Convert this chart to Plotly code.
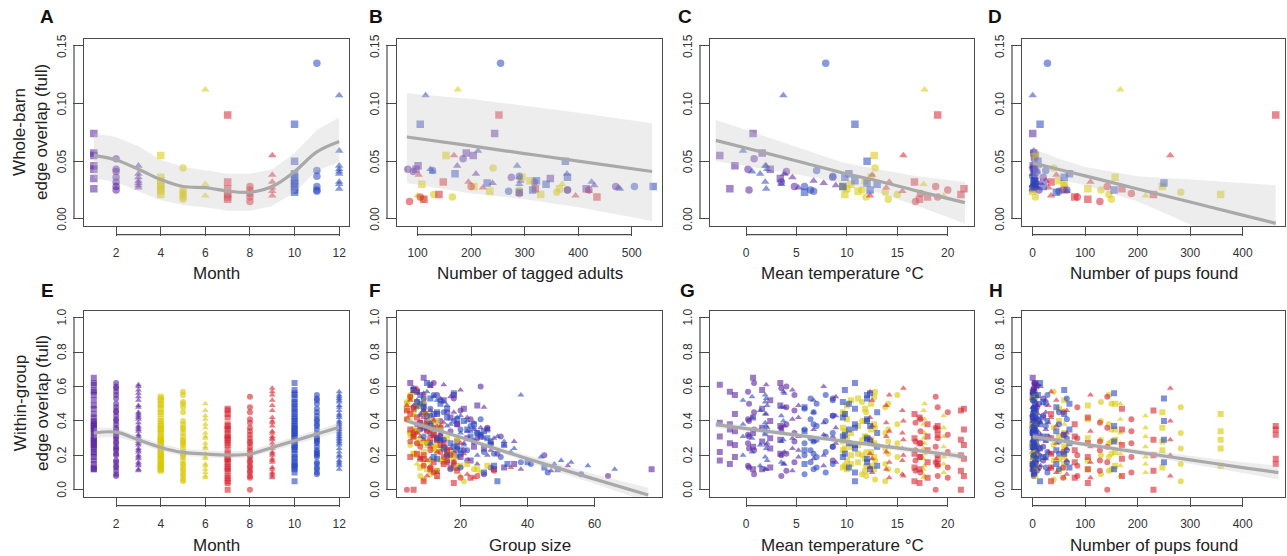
import plotly.graph_objects as go

# ------------------------------------------------------------------ data
# whole-barn observations (one per sampling occasion)
wb_month = [1, 1, 1, 1, 1, 1, 1,
            2, 2, 2, 2, 2, 2, 2,
            3, 3, 3, 3, 3, 3, 3,
            4, 4, 4, 4, 4, 4, 4, 4,
            5, 5, 5, 5, 5, 5,
            6, 6, 6,
            7, 7, 7, 7, 7, 7,
            8, 8, 8, 8, 8,
            9, 9, 9, 9, 9, 9,
            10, 10, 10, 10, 10, 10, 10, 10, 10, 10,
            11, 11, 11, 11, 11, 11,
            12, 12, 12, 12, 12, 12, 12, 12, 12]
wb_overlap = [0.074, 0.057, 0.055, 0.046, 0.043, 0.035, 0.026,
              0.052, 0.043, 0.041, 0.036, 0.032, 0.028, 0.025,
              0.046, 0.039, 0.036, 0.033, 0.031, 0.029, 0.027,
              0.055, 0.036, 0.033, 0.030, 0.028, 0.026, 0.024, 0.021,
              0.044, 0.025, 0.023, 0.021, 0.019, 0.017,
              0.112, 0.030, 0.020,
              0.090, 0.032, 0.026, 0.021, 0.019, 0.017,
              0.028, 0.025, 0.022, 0.019, 0.015,
              0.055, 0.038, 0.032, 0.027, 0.024, 0.020,
              0.082, 0.050, 0.039, 0.036, 0.033, 0.031, 0.030, 0.028, 0.025, 0.023,
              0.135, 0.042, 0.037, 0.028, 0.025, 0.024,
              0.107, 0.059, 0.046, 0.043, 0.041, 0.039, 0.032, 0.030, 0.026]
wb_adults = [244, 191, 204, 101, 97, 348, 415,
             185, 82, 92, 275, 318, 470, 420,
             174, 209, 290, 292, 240, 430, 475,
             153, 295, 310, 108, 205, 365, 235, 330,
             241, 290, 360, 130, 165, 110,
             175, 370, 100,
             252, 148, 320, 140, 435, 112,
             200, 380, 290, 105, 85,
             168, 102, 195, 222, 420, 395,
             105, 376, 170, 380, 322, 230, 340, 540, 315, 290,
             255, 128, 290, 505, 380, 270,
             115, 213, 286, 124, 128, 379, 425, 290, 478]
wb_temp = [0.7, 1.6, -2.6, -1.1, 2.4, 3.4, -1.6,
           0.8, 0.2, 4.0, 8.6, 3.5, 4.8, 0.3,
           2.0, 3.8, 4.6, 6.7, 7.7, 8.9, 5.2,
           12.7, 12.4, 11.8, 10.4, 9.6, 10.0, 11.1, 9.8,
           12.8, 11.5, 13.8, 15.0, 11.9, 14.1,
           17.7, 17.6, 19.6,
           19.0, 16.7, 21.6, 21.3, 18.0, 17.2,
           18.8, 20.0, 17.3, 19.0, 16.8,
           15.6, 12.5, 14.2, 13.9, 15.5, 12.3,
           10.8, 12.0, 10.2, 9.8, 10.8, 12.0, 13.0, 9.6, 12.3, 5.8,
           7.9, 7.0, 8.6, 5.8, 6.4, 6.7,
           3.7, -0.3, 1.9, 2.1, 0.6, 1.4, 1.9, 3.5, 2.0]
wb_pups = [0, 2, 5, 1, 3, 4, 0,
           3, 1, 8, 20, 2, 6, 12,
           10, 0, 4, 25, 15, 0, 8,
           5, 157, 50, 60, 247, 105, 0, 358,
           40, 130, 282, 145, 5, 150,
           167, 60, 215,
           463, 35, 170, 230, 80, 105,
           142, 58, 188, 85, 128,
           262, 45, 110, 30, 65, 35,
           14, 10, 70, 60, 3, 250, 5, 20, 155, 45,
           28, 25, 0, 2, 65, 50,
           0, 2, 0, 4, 8, 3, 6, 1, 0]

# within-group overlap per occasion (lists follow occasion order of each month)
wg_m1 = [[0.65, 0.42, 0.33, 0.25, 0.12], [0.58, 0.47, 0.36, 0.28, 0.12], [0.61, 0.39, 0.31, 0.22, 0.17],
         [0.55, 0.44, 0.34, 0.26, 0.19], [0.52, 0.40, 0.30, 0.24, 0.13], [0.62, 0.49, 0.37, 0.29, 0.21],
         [0.57, 0.38, 0.35, 0.27, 0.15]]
wg_m2 = [[0.62, 0.45, 0.35, 0.23, 0.09], [0.57, 0.41, 0.32, 0.27, 0.14], [0.60, 0.48, 0.38, 0.21, 0.11],
         [0.53, 0.43, 0.30, 0.25, 0.17], [0.59, 0.36, 0.34, 0.20, 0.08], [0.55, 0.46, 0.33, 0.28, 0.16],
         [0.50, 0.40, 0.31, 0.24, 0.13]]
wg_m3 = [[0.61, 0.44, 0.34, 0.26, 0.12], [0.56, 0.48, 0.37, 0.22, 0.15], [0.58, 0.41, 0.30, 0.24, 0.11],
         [0.52, 0.45, 0.35, 0.28, 0.18], [0.60, 0.39, 0.32, 0.20, 0.14], [0.54, 0.43, 0.36, 0.27, 0.16],
         [0.49, 0.42, 0.31, 0.23, 0.19]]
wg_m4 = [[0.54, 0.38, 0.27, 0.19, 0.12], [0.50, 0.35, 0.29, 0.22, 0.14], [0.47, 0.40, 0.31, 0.18, 0.11],
         [0.52, 0.33, 0.25, 0.20, 0.15], [0.45, 0.36, 0.28, 0.23, 0.13], [0.49, 0.41, 0.30, 0.17, 0.12],
         [0.53, 0.37, 0.26, 0.21, 0.16], [0.44, 0.34, 0.29, 0.24, 0.14]]
wg_m5 = [[0.57, 0.36, 0.26, 0.17, 0.06], [0.51, 0.40, 0.29, 0.20, 0.09], [0.48, 0.33, 0.24, 0.15, 0.05],
         [0.55, 0.38, 0.27, 0.19, 0.11], [0.45, 0.31, 0.22, 0.14, 0.08], [0.50, 0.35, 0.28, 0.21, 0.12]]
wg_m6 = [[0.50, 0.41, 0.33, 0.27, 0.21, 0.14, 0.08], [0.46, 0.38, 0.30, 0.24, 0.18, 0.12, 0.07],
         [0.43, 0.36, 0.31, 0.25, 0.19, 0.15, 0.10]]
wg_m7 = [[0.37, 0.35, 0.32, 0.18, 0.15], [0.44, 0.30, 0.21, 0.13, 0.05], [0.47, 0.35, 0.26, 0.18, 0.08],
         [0.46, 0.29, 0.20, 0.11, 0.00], [0.38, 0.31, 0.23, 0.16, 0.07], [0.42, 0.27, 0.19, 0.12, 0.04]]
wg_m8 = [[0.54, 0.36, 0.25, 0.16, 0.00], [0.45, 0.32, 0.22, 0.13, 0.07], [0.41, 0.34, 0.27, 0.19, 0.10],
         [0.48, 0.30, 0.20, 0.14, 0.08], [0.39, 0.28, 0.23, 0.17, 0.11]]
wg_m9 = [[0.59, 0.40, 0.29, 0.20, 0.08], [0.52, 0.37, 0.27, 0.18, 0.10], [0.55, 0.34, 0.25, 0.16, 0.07],
         [0.49, 0.39, 0.31, 0.22, 0.12], [0.46, 0.33, 0.24, 0.17, 0.09], [0.57, 0.42, 0.30, 0.21, 0.13]]
wg_m10 = [[0.62, 0.38, 0.24, 0.05], [0.55, 0.41, 0.30, 0.18], [0.50, 0.35, 0.27, 0.13], [0.58, 0.44, 0.32, 0.21],
          [0.47, 0.36, 0.26, 0.10], [0.53, 0.40, 0.29, 0.16], [0.45, 0.33, 0.25, 0.14], [0.51, 0.42, 0.31, 0.19],
          [0.56, 0.37, 0.28, 0.12], [0.48, 0.34, 0.23, 0.15]]
wg_m11 = [[0.55, 0.40, 0.31, 0.22, 0.10], [0.50, 0.37, 0.29, 0.19, 0.13], [0.52, 0.43, 0.33, 0.25, 0.15],
          [0.47, 0.35, 0.27, 0.20, 0.09], [0.53, 0.41, 0.30, 0.23, 0.16], [0.45, 0.38, 0.28, 0.21, 0.12]]
wg_m12 = [[0.57, 0.40, 0.29, 0.15], [0.52, 0.38, 0.31, 0.20], [0.55, 0.44, 0.33, 0.12], [0.49, 0.36, 0.27, 0.17],
          [0.54, 0.42, 0.30, 0.22], [0.46, 0.35, 0.26, 0.14], [0.51, 0.39, 0.32, 0.19], [0.48, 0.43, 0.28, 0.16],
          [0.53, 0.37, 0.34, 0.24]]

# group sizes matching the within-group values above
gs_m1 = [[9, 17, 12, 24, 77], [6, 21, 14, 19, 30], [11, 8, 26, 16, 23], [18, 13, 7, 29, 20],
         [15, 10, 22, 27, 33], [5, 25, 9, 13, 18], [7, 19, 28, 11, 36]]
gs_m2 = [[12, 16, 8, 21, 27], [7, 23, 14, 10, 18], [26, 9, 19, 31, 13], [18, 11, 25, 15, 22],
         [6, 28, 17, 45, 64], [13, 20, 11, 24, 16], [9, 14, 32, 19, 29]]
gs_m3 = [[15, 10, 22, 33, 38], [9, 27, 13, 18, 25], [20, 12, 30, 16, 47], [7, 18, 24, 36, 11],
         [11, 24, 14, 28, 52], [17, 8, 26, 21, 15], [6, 22, 12, 29, 19]]
gs_m4 = [[5, 12, 8, 16, 10], [7, 6, 14, 9, 20], [4, 11, 6, 18, 13], [9, 5, 12, 7, 22],
         [6, 14, 10, 17, 8], [8, 4, 16, 11, 25], [5, 9, 13, 6, 15], [10, 7, 19, 12, 28]]
gs_m5 = [[6, 10, 5, 14, 9], [4, 13, 8, 18, 11], [7, 5, 15, 9, 21], [5, 11, 7, 16, 12],
         [9, 6, 13, 19, 8], [4, 12, 10, 6, 24]]
gs_m6 = [[7, 5, 12, 9, 16, 11, 20], [4, 9, 6, 14, 8, 18, 13], [6, 11, 5, 10, 15, 7, 26]]
gs_m7 = [[8, 5, 12, 9, 15], [5, 11, 7, 17, 9], [6, 10, 14, 8, 13], [4, 13, 9, 19, 6],
         [10, 6, 16, 12, 23], [7, 15, 5, 11, 18]]
gs_m8 = [[5, 12, 8, 18, 4], [9, 6, 14, 11, 20], [4, 10, 7, 15, 12], [6, 13, 17, 9, 25], [8, 5, 11, 16, 30]]
gs_m9 = [[7, 12, 9, 16, 10], [5, 14, 20, 8, 13], [9, 6, 11, 18, 24], [4, 15, 8, 13, 19],
         [11, 7, 17, 10, 22], [6, 9, 14, 21, 35]]
gs_m10 = [[10, 24, 15, 31], [8, 19, 28, 13], [14, 22, 17, 45], [6, 12, 26, 20], [16, 9, 33, 27],
          [11, 21, 14, 40], [13, 25, 18, 30], [7, 16, 23, 12], [18, 11, 29, 49], [9, 27, 20, 34]]
gs_m11 = [[12, 18, 9, 27, 46], [8, 23, 15, 32, 20], [14, 10, 25, 19, 41], [11, 20, 29, 16, 56],
          [9, 26, 13, 22, 38], [15, 7, 24, 30, 17]]
gs_m12 = [[10, 22, 14, 48], [13, 17, 31, 25], [38, 8, 20, 66], [16, 24, 11, 50], [12, 19, 27, 35],
          [9, 28, 21, 58], [15, 11, 26, 44], [7, 20, 33, 53], [14, 16, 23, 36]]

# model fits (estimate and 95% band)
fitA_x = [1, 2, 3, 4, 5, 6, 7, 8, 9, 10, 11, 12]
fitA_y = [0.055, 0.051, 0.043, 0.034, 0.028, 0.027, 0.024, 0.023, 0.028, 0.041, 0.058, 0.067]
fitA_lo = [0.035, 0.032, 0.024, 0.016, 0.012, 0.010, 0.007, 0.007, 0.011, 0.023, 0.042, 0.049]
fitA_hi = [0.074, 0.071, 0.063, 0.051, 0.045, 0.042, 0.039, 0.039, 0.043, 0.057, 0.077, 0.088]
fitB_x = [80, 200, 300, 400, 538]
fitB_y = [0.071, 0.0632, 0.0566, 0.0501, 0.041]
fitB_lo = [0.031, 0.022, 0.017, 0.010, -0.002]
fitB_hi = [0.109, 0.104, 0.098, 0.092, 0.083]
fitC_x = [-3, 2, 6, 9.5, 13, 17, 21.7]
fitC_y = [0.068, 0.057, 0.048, 0.040, 0.033, 0.024, 0.014]
fitC_lo = [0.050, 0.043, 0.037, 0.031, 0.023, 0.011, -0.004]
fitC_hi = [0.086, 0.071, 0.059, 0.049, 0.043, 0.037, 0.032]
fitD_x = [0, 50, 100, 200, 300, 400, 463]
fitD_y = [0.0485, 0.0428, 0.0372, 0.0259, 0.0145, 0.0032, -0.004]
fitD_lo = [0.036, 0.034, 0.029, 0.015, -0.005, -0.024, -0.037]
fitD_hi = [0.061, 0.052, 0.045, 0.037, 0.034, 0.031, 0.029]
fitE_x = [1, 2, 3, 4, 5, 6, 7, 8, 9, 10, 11, 12]
fitE_y = [0.33, 0.335, 0.29, 0.246, 0.217, 0.208, 0.202, 0.208, 0.246, 0.285, 0.324, 0.363]
fitE_lo = [0.30, 0.31, 0.27, 0.225, 0.197, 0.188, 0.182, 0.188, 0.225, 0.263, 0.30, 0.335]
fitE_hi = [0.36, 0.36, 0.31, 0.267, 0.237, 0.228, 0.222, 0.228, 0.267, 0.307, 0.348, 0.39]
fitF_x = [4, 20, 40, 60, 76]
fitF_y = [0.40, 0.305, 0.18, 0.062, -0.03]
fitF_lo = [0.385, 0.293, 0.16, 0.035, -0.07]
fitF_hi = [0.415, 0.317, 0.20, 0.09, 0.012]
fitG_x = [-3, 5, 10, 15, 21.7]
fitG_y = [0.378, 0.318, 0.28, 0.243, 0.192]
fitG_lo = [0.36, 0.305, 0.268, 0.228, 0.17]
fitG_hi = [0.396, 0.331, 0.292, 0.258, 0.214]
fitH_x = [0, 100, 200, 300, 400, 468]
fitH_y = [0.309, 0.264, 0.219, 0.174, 0.129, 0.10]
fitH_lo = [0.29, 0.25, 0.203, 0.15, 0.098, 0.06]
fitH_hi = [0.328, 0.278, 0.235, 0.198, 0.16, 0.14]

# axis ticks
ticks_month = [2, 4, 6, 8, 10, 12]
ticks_adults = [100, 200, 300, 400, 500]
ticks_temp = [0, 5, 10, 15, 20]
ticks_pups = [0, 100, 200, 300, 400]
ticks_group = [20, 40, 60]
ticks_wb = [0.0, 0.05, 0.10, 0.15]
labels_wb = ["0.00", "0.05", "0.10", "0.15"]
ticks_wg = [0.0, 0.2, 0.4, 0.6, 0.8, 1.0]
labels_wg = ["0.0", "0.2", "0.4", "0.6", "0.8", "1.0"]

# ------------------------------------------------------------------ style
W, H = 1287, 556
FONT = "Liberation Sans, Arial, Helvetica, sans-serif"
SEASON_COL = ["#5a22a0", "#d8c800", "#d8232f", "#2646c0"]
SHAPES = ["square", "circle", "triangle-up"]
BOX = "#4a4a4a"
col_px = [(84, 349), (397, 662), (710, 974), (1022, 1285)]
row_px = [(39, 225.7), (310.7, 496.7)]
YLABEL_GAP = 22  # px between box edge and centre of rotated y tick label


def mcol(m):
    return SEASON_COL[(m - 1) // 3]


def msym(m):
    return SHAPES[(m - 1) % 3]


# within-group point table, linked to occasions
wg_vals = [wg_m1, wg_m2, wg_m3, wg_m4, wg_m5, wg_m6, wg_m7, wg_m8, wg_m9, wg_m10, wg_m11, wg_m12]
wg_sizes = [gs_m1, gs_m2, gs_m3, gs_m4, gs_m5, gs_m6, gs_m7, gs_m8, gs_m9, gs_m10, gs_m11, gs_m12]
g_month, g_val, g_size, g_temp, g_pups = [], [], [], [], []
for m in range(1, 13):
    occ = [k for k in range(len(wb_month)) if wb_month[k] == m]
    for j, k in enumerate(occ):
        for v, s in zip(wg_vals[m - 1][j], wg_sizes[m - 1][j]):
            g_month.append(m)
            g_val.append(v)
            g_size.append(s)
            g_temp.append(wb_temp[k])
            g_pups.append(wb_pups[k])

panels = [
    dict(L="A", r=0, c=0, x=wb_month, y=wb_overlap, m=wb_month, xr=[0.56, 12.44], xt=ticks_month,
         xtitle="Month", fit=(fitA_x, fitA_y, fitA_lo, fitA_hi)),
    dict(L="B", r=0, c=1, x=wb_adults, y=wb_overlap, m=wb_month, xr=[61.6, 556.5], xt=ticks_adults,
         xtitle="Number of tagged adults", fit=(fitB_x, fitB_y, fitB_lo, fitB_hi)),
    dict(L="C", r=0, c=2, x=wb_temp, y=wb_overlap, m=wb_month, xr=[-3.57, 22.6], xt=ticks_temp,
         xtitle="Mean temperature °C", fit=(fitC_x, fitC_y, fitC_lo, fitC_hi)),
    dict(L="D", r=0, c=3, x=wb_pups, y=wb_overlap, m=wb_month, xr=[-20.4, 480.6], xt=ticks_pups,
         xtitle="Number of pups found", fit=(fitD_x, fitD_y, fitD_lo, fitD_hi)),
    dict(L="E", r=1, c=0, x=g_month, y=g_val, m=g_month, xr=[0.56, 12.44], xt=ticks_month,
         xtitle="Month", fit=(fitE_x, fitE_y, fitE_lo, fitE_hi)),
    dict(L="F", r=1, c=1, x=g_size, y=g_val, m=g_month, xr=[1.05, 80.1], xt=ticks_group,
         xtitle="Group size", fit=(fitF_x, fitF_y, fitF_lo, fitF_hi)),
    dict(L="G", r=1, c=2, x=g_temp, y=g_val, m=g_month, xr=[-3.57, 22.6], xt=ticks_temp,
         xtitle="Mean temperature °C", fit=(fitG_x, fitG_y, fitG_lo, fitG_hi)),
    dict(L="H", r=1, c=3, x=g_pups, y=g_val, m=g_month, xr=[-20.4, 480.6], xt=ticks_pups,
         xtitle="Number of pups found", fit=(fitH_x, fitH_y, fitH_lo, fitH_hi)),
]
letter_px = {"A": (47.5, 16), "B": (376.5, 16), "C": (685, 16), "D": (995, 16),
             "E": (47.5, 290), "F": (375, 290), "G": (687, 290), "H": (996, 290)}

fig = go.Figure()
layout = dict(width=W, height=H, margin=dict(l=0, r=0, t=0, b=0), paper_bgcolor="white",
              plot_bgcolor="white", showlegend=False, font=dict(family=FONT, color="#222"))
shapes, annotations = [], []

for i, p in enumerate(panels):
    n = "" if i == 0 else str(i + 1)
    xa, ya = "x" + n, "y" + n
    x0, x1 = col_px[p["c"]]
    y0, y1 = row_px[p["r"]]
    pw, ph = x1 - x0, y1 - y0
    top = p["r"] == 0
    yt = ticks_wb if top else ticks_wg
    yl = labels_wb if top else labels_wg
    yr = [-0.006, 0.156] if top else [-0.04, 1.04]
    common = dict(showgrid=False, zeroline=False, showline=True, mirror=True, linecolor=BOX,
                  linewidth=1.3, ticks="outside", tickcolor=BOX, tickwidth=1.2,
                  tickfont=dict(family=FONT, size=12, color="#333"))
    layout["xaxis" + n] = dict(domain=[x0 / W, x1 / W], range=p["xr"], anchor=ya, tickmode="array",
                               tickvals=p["xt"], ticktext=[str(t) for t in p["xt"]], ticklen=9,
                               ticklabelstandoff=7, **common)
    layout["yaxis" + n] = dict(domain=[1 - y1 / H, 1 - y0 / H], range=yr, anchor=xa, tickmode="array",
                               tickvals=yt, showticklabels=False, ticklen=10, **common)

    # rotated y tick labels (R style, parallel to the axis)
    for tv, tl in zip(yt, yl):
        annotations.append(dict(text=tl, x=(x0 - YLABEL_GAP) / W, xref="paper", y=tv, yref=ya,
                                showarrow=False, textangle=-90, xanchor="center", yanchor="middle",
                                font=dict(family=FONT, size=12, color="#333")))

    # points
    fig.add_trace(go.Scatter(
        x=p["x"], y=p["y"], xaxis=xa, yaxis=ya, mode="markers", hoverinfo="skip",
        marker=dict(size=7.5 if top else 6, color=[mcol(m) for m in p["m"]],
                    symbol=[msym(m) for m in p["m"]], opacity=0.55 if top else 0.6,
                    line=dict(width=0))))
    # confidence band + fit
    fx, fy, flo, fhi = p["fit"]
    fig.add_trace(go.Scatter(
        x=list(fx) + list(fx)[::-1], y=list(fhi) + list(flo)[::-1], xaxis=xa, yaxis=ya,
        mode="lines", fill="toself", fillcolor="rgba(200,200,200,0.33)", line=dict(width=0),
        hoverinfo="skip"))
    fig.add_trace(go.Scatter(
        x=fx, y=fy, xaxis=xa, yaxis=ya, mode="lines", hoverinfo="skip",
        line=dict(color="#a9a9a9", width=3.2, shape="spline")))

    # detached R-style axis lines at tick ends
    shapes.append(dict(type="line", xref=xa, yref=ya + " domain", x0=p["xt"][0], x1=p["xt"][-1],
                       y0=-9 / ph, y1=-9 / ph, line=dict(color=BOX, width=1.2)))
    shapes.append(dict(type="line", xref=xa + " domain", yref=ya, x0=-10 / pw, x1=-10 / pw,
                       y0=yt[0], y1=yt[-1], line=dict(color=BOX, width=1.2)))

    # x title
    annotations.append(dict(text=p["xtitle"], x=(x0 + x1) / 2 / W, y=1 - (273 if top else 545) / H,
                            xref="paper", yref="paper", showarrow=False,
                            font=dict(family=FONT, size=17, color="#222"), xanchor="center",
                            yanchor="middle"))
    lx, ly = letter_px[p["L"]]
    annotations.append(dict(text="<b>%s</b>" % p["L"], x=lx / W, y=1 - ly / H, xref="paper",
                            yref="paper", showarrow=False, font=dict(family=FONT, size=19, color="#111"),
                            xanchor="center", yanchor="middle"))

annotations.append(dict(text="Whole-barn<br>edge overlap (full)", x=31 / W, y=1 - 132 / H, xref="paper",
                        yref="paper", showarrow=False, textangle=-90,
                        font=dict(family=FONT, size=17, color="#222"), xanchor="center", yanchor="middle"))
annotations.append(dict(text="Within-group<br>edge overlap (full)", x=31 / W, y=1 - 403 / H, xref="paper",
                        yref="paper", showarrow=False, textangle=-90,
                        font=dict(family=FONT, size=17, color="#222"), xanchor="center", yanchor="middle"))

layout["shapes"] = shapes
layout["annotations"] = annotations
fig.update_layout(**layout)
fig.write_html("out.html", config={"displayModeBar": False},
               post_script="document.body.style.margin='0';"
                           "document.documentElement.style.overflow='hidden';"
                           "document.body.style.overflow='hidden';")
